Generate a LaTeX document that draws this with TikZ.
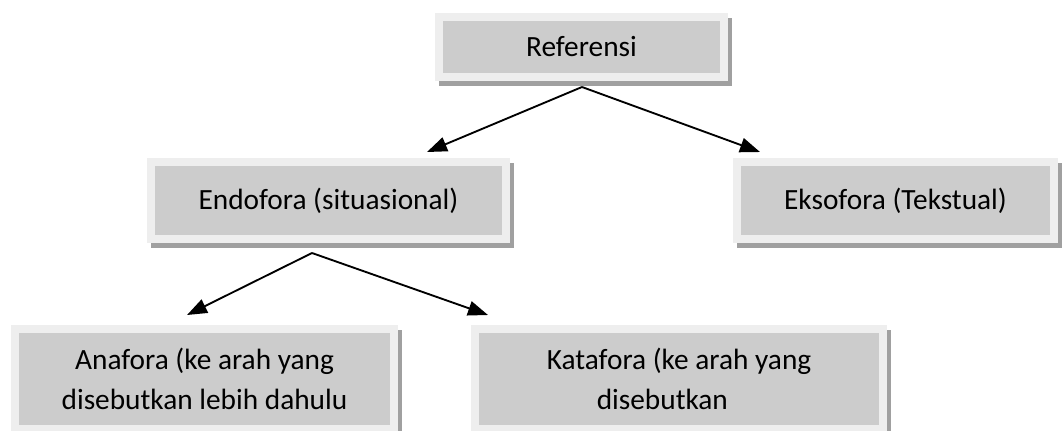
\documentclass[tikz,border=0pt]{standalone}
\usepackage{fontspec}
\setmainfont{Carlito}
\usepackage{tikz}
\usetikzlibrary{arrows.meta, positioning, backgrounds}
\definecolor{boxouter}{RGB}{238, 238, 238}
\definecolor{boxinner}{RGB}{204, 204, 204}
\definecolor{boxshadow}{RGB}{160, 160, 160}

\tikzset{
    refbox/.style={draw=boxouter, fill=boxinner, line width=6pt, inner sep=0pt,
        align=center, font=\fontsize{22}{30}\selectfont},
    refarrow/.style={-{Triangle[length=15pt, width=11pt]}, line width=1.4pt}
}

\begin{document}
\begin{tikzpicture}[x=0.75pt, y=-0.75pt]
\useasboundingbox (0,0) rectangle (1064,430);

% Boxes
\node[refbox, minimum width=213.75pt, minimum height=45pt] (ref) at (581.5,47) {Referensi};
\node[refbox, minimum width=266.25pt, minimum height=57.75pt] (endo) at (328.5,200.5) {Endofora (situasional)};
\node[refbox, minimum width=237.75pt, minimum height=57.75pt] (ekso) at (895.5,200.5) {Eksofora (Tekstual)};
\node[refbox, minimum width=284.25pt, minimum height=75pt] (ana) at (204.5,379) {Anafora (ke arah yang\\disebutkan lebih dahulu};
\node[refbox, minimum width=306pt, minimum height=75pt] (kata) at (679,379) {Katafora (ke arah yang\\disebutkan\hspace*{25pt}};

% Shadows
\begin{scope}[on background layer]
\foreach \b in {ref, endo, ekso, ana, kata}
    \fill[boxshadow] ([shift={(4,5)}]\b.north west) rectangle ([shift={(4,5)}]\b.south east);
\end{scope}

% Arrows
\coordinate (refapex) at (582,87);
\coordinate (endotip) at (427,152);
\coordinate (eksotip) at (760,152);
\coordinate (endoapex) at (312,253);
\coordinate (anatip) at (187,315);
\coordinate (katatip) at (488,315);
\draw[refarrow] (refapex) -- (endotip);
\draw[refarrow] (refapex) -- (eksotip);
\draw[refarrow] (endoapex) -- (anatip);
\draw[refarrow] (endoapex) -- (katatip);
\end{tikzpicture}
\end{document}
